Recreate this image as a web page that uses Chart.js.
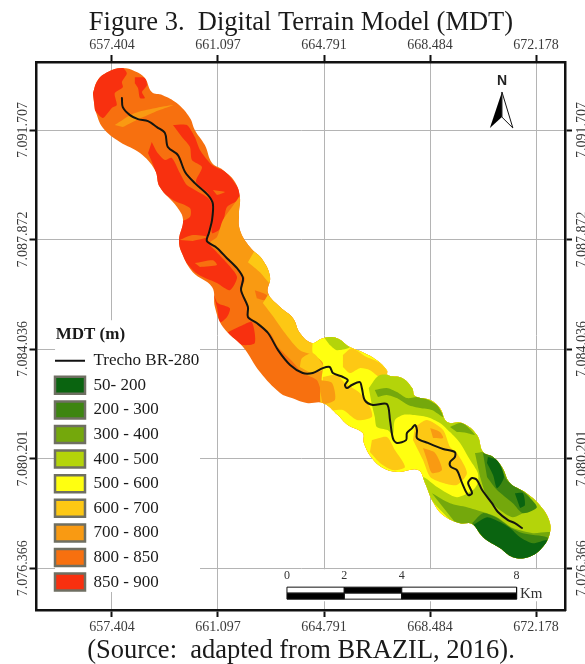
<!DOCTYPE html>
<html><head><meta charset="utf-8">
<style>html,body{margin:0;padding:0;background:#fff}canvas{display:block;filter:blur(0.45px)}</style>
<script src="https://cdn.jsdelivr.net/npm/chart.js@4"></script></head><body>
<canvas id="c" width="585" height="664"></canvas>
<script>
const titleText='Figure 3.  Digital Terrain Model (MDT)';
const captionText='(Source:  adapted from BRAZIL, 2016).';
const eastTicks=[657.404,661.097,664.791,668.484,672.178];
const eastLabels=['657.404','661.097','664.791','668.484','672.178'];
const northTicks=[7091.707,7087.872,7084.036,7080.201,7076.366];
const northLabels=['7.091.707','7.087.872','7.084.036','7.080.201','7.076.366'];
const legendClasses=['50- 200','200 - 300','300 - 400','400 - 500','500 - 600','600 - 700','700 - 800','800 - 850','850 - 900'];
const legendColors=['#0a6410','#3d8510','#74a80c','#b4d40a','#ffff10','#fdc814','#f99a12','#f7700f','#f8300f'];
const roadName='Trecho BR-280';
const scaleKm=[0,2,4,8];
const scaleOrigin=663.50;
const northArrowLeft=[[670.99,7093.04],[670.57,7091.78],[670.99,7092.16]];
const northArrowRight=[[670.99,7093.04],[671.37,7091.78],[670.99,7092.16],[670.99,7093.04]];

const outline=[[656.74,7093.00],[656.91,7093.46],[657.26,7093.74],[657.75,7093.88],[658.20,7093.77],[658.55,7093.53],[658.79,7093.04],[659.17,7092.93],[659.66,7092.65],[660.12,7092.13],[660.29,7091.71],[660.64,7091.18],[660.89,7090.55],[661.27,7090.31],[661.69,7089.89],[661.86,7089.36],[661.83,7088.80],[661.86,7088.21],[662.21,7087.61],[662.66,7087.15],[662.91,7086.56],[662.84,7086.00],[663.26,7085.51],[663.71,7085.12],[663.95,7084.60],[664.37,7084.25],[664.75,7084.42],[665.24,7084.42],[665.69,7084.11],[666.14,7083.93],[666.63,7083.65],[666.98,7083.30],[667.01,7083.13],[667.51,7083.02],[667.86,7082.67],[667.96,7082.39],[668.49,7082.25],[668.83,7081.97],[669.08,7081.48],[669.60,7081.45],[670.12,7081.03],[670.33,7080.43],[670.68,7080.26],[670.99,7079.91],[671.27,7079.35],[671.79,7079.03],[672.31,7078.57],[672.63,7078.05],[672.66,7077.59],[672.38,7077.07],[671.90,7076.75],[671.37,7076.75],[670.92,7077.07],[670.33,7077.45],[669.95,7077.91],[669.53,7077.94],[668.94,7078.22],[668.59,7078.68],[668.31,7079.35],[668.07,7079.80],[667.37,7079.73],[666.85,7079.87],[666.46,7080.22],[666.18,7080.75],[666.14,7081.10],[665.62,7081.38],[665.27,7081.73],[664.75,7082.15],[664.19,7082.15],[663.67,7082.32],[663.26,7082.50],[662.56,7083.23],[661.97,7084.11],[661.27,7084.81],[660.99,7085.51],[660.89,7086.21],[660.22,7086.73],[659.84,7087.40],[659.74,7087.86],[659.88,7088.56],[659.67,7089.01],[659.07,7089.71],[658.90,7090.31],[658.38,7090.90],[657.68,7091.29],[657.09,7091.78],[656.81,7092.41]];

const road=[[657.75,7092.83],[657.78,7092.51],[658.03,7092.23],[658.31,7092.09],[658.66,7092.02],[658.97,7091.81],[659.25,7091.60],[659.35,7091.11],[659.70,7090.83],[659.95,7090.24],[660.29,7089.85],[660.75,7089.43],[660.92,7089.12],[660.89,7088.56],[660.78,7088.10],[660.71,7087.82],[661.06,7087.58],[661.41,7087.22],[661.76,7086.87],[661.97,7086.52],[661.90,7086.10],[662.14,7085.51],[662.14,7085.16],[662.45,7084.95],[662.84,7084.60],[663.19,7084.00],[663.61,7083.48],[664.05,7083.20],[664.40,7083.20],[664.75,7083.37],[664.99,7083.41],[665.10,7083.20],[665.45,7083.06],[665.62,7082.95],[665.52,7082.78],[665.59,7082.67],[665.76,7082.78],[666.04,7082.88],[666.11,7082.67],[666.21,7082.25],[666.49,7082.08],[666.98,7082.11],[667.09,7081.55],[667.19,7080.92],[667.33,7080.75],[667.65,7080.85],[667.68,7081.10],[667.86,7081.27],[667.96,7081.38],[668.03,7081.20],[668.03,7080.92],[668.41,7080.75],[668.94,7080.54],[669.35,7080.43],[669.35,7080.26],[669.18,7080.08],[669.21,7079.91],[669.42,7079.80],[669.60,7079.35],[669.81,7078.93],[669.95,7078.99],[669.81,7079.35],[669.95,7079.52],[670.12,7079.45],[670.30,7079.10],[670.64,7078.64],[670.85,7078.33],[671.20,7078.05],[671.44,7077.94],[671.69,7077.77]];

const zone850=[
[[656.64,7093.00],[657.09,7093.70],[657.68,7093.95],[657.92,7093.70],[657.75,7093.39],[657.78,7093.21],[657.50,7093.00],[657.57,7092.58],[657.40,7092.48],[657.09,7092.13],[656.88,7092.30],[656.57,7092.76]],
[[658.20,7093.56],[658.55,7093.53],[658.62,7093.28],[658.45,7093.04],[658.55,7092.83],[658.38,7092.83],[658.31,7093.18],[658.20,7093.35]],
[[659.53,7091.88],[660.01,7091.88],[660.29,7091.46],[660.47,7091.01],[660.89,7090.48],[661.41,7090.20],[661.93,7089.36],[661.41,7089.01],[661.24,7088.31],[660.89,7088.10],[660.92,7089.08],[660.75,7089.50],[660.33,7089.89],[660.54,7090.41],[660.19,7090.66],[660.12,7091.11],[659.84,7091.46]],
[[658.79,7091.29],[658.97,7090.94],[659.25,7090.66],[659.49,7090.73],[659.77,7090.20],[660.01,7089.78],[660.29,7089.61],[660.75,7089.33],[660.92,7089.01],[660.75,7087.79],[660.99,7087.50],[661.41,7087.05],[661.76,7086.56],[661.51,7086.10],[661.06,7086.35],[660.33,7086.70],[659.70,7087.50],[659.53,7088.31],[660.12,7088.66],[660.12,7088.98],[659.53,7089.26],[659.00,7089.71],[658.90,7090.31],[658.66,7090.90]],
[[660.92,7086.03],[661.09,7085.65],[661.51,7085.47],[661.41,7085.16],[661.17,7084.98],[661.06,7085.51]],
[[661.44,7084.63],[661.97,7084.88],[662.28,7084.98],[662.38,7084.25],[661.97,7084.18],[661.62,7084.35]]
];
const zone800Streaks=[
[[659.77,7087.86],[660.22,7088.03],[660.75,7087.96],[660.22,7087.82]],
[[660.29,7087.05],[660.92,7087.15],[661.06,7086.98],[660.47,7086.91]],
[[660.92,7089.61],[661.34,7089.54],[661.06,7089.43]]
];
const zone700=[
[[661.97,7089.61],[661.76,7089.26],[661.27,7088.56],[661.06,7087.96],[660.82,7087.75],[661.41,7087.22],[661.86,7086.70],[662.04,7086.52],[661.93,7086.10],[662.14,7085.51],[662.21,7085.16],[662.91,7084.60],[663.19,7084.11],[663.71,7083.58],[664.05,7083.20],[664.54,7082.95],[664.71,7082.43],[664.75,7082.01],[666.04,7079.45],[674.40,7075.25],[674.40,7085.75],[663.95,7091.01]],
[[657.50,7091.88],[658.20,7092.30],[659.53,7092.58],[658.90,7092.34],[658.27,7092.06],[657.78,7091.81]]
];
const zone800Patch=[[[662.38,7086.10],[662.80,7085.93],[662.73,7085.75],[662.45,7085.82]]];
const zone600Strips=[
[[662.38,7087.50],[663.08,7086.80],[662.98,7086.28],[662.56,7086.73],[662.14,7087.08]],
[[662.84,7085.93],[663.78,7085.23],[664.72,7084.18],[664.65,7083.83],[663.95,7084.00],[663.43,7084.60],[662.98,7085.23],[662.66,7085.65]]
];
const zone500=[[[664.40,7084.35],[664.40,7083.90],[664.75,7083.55],[664.71,7083.02],[664.71,7082.01],[666.04,7079.80],[674.40,7075.25],[674.40,7085.75],[664.65,7085.75]]];
const zone600=[
[[663.95,7083.41],[664.02,7083.72],[664.40,7083.90],[664.75,7083.48],[664.75,7083.30],[664.33,7083.20]],
[[664.75,7083.06],[665.24,7083.13],[665.52,7082.85],[666.04,7082.50],[666.39,7082.01],[666.46,7081.66],[665.94,7081.55],[665.45,7081.90],[664.99,7081.90],[664.75,7082.25]],
[[665.45,7083.83],[665.76,7084.07],[666.28,7083.76],[666.74,7083.55],[667.01,7083.20],[666.74,7083.06],[666.39,7083.30],[666.04,7083.37],[665.69,7083.20],[665.45,7083.41]],
[[666.46,7080.85],[666.98,7080.96],[667.26,7080.50],[667.61,7079.91],[667.19,7079.80],[666.74,7080.05],[666.39,7080.43]],
[[667.96,7081.31],[668.38,7081.55],[668.94,7081.20],[669.18,7080.61],[669.42,7080.40],[669.77,7079.70],[669.42,7079.28],[668.94,7079.35],[668.49,7079.56],[668.24,7080.15],[667.89,7080.85]]
];
const zone700Patches=[
[[668.49,7081.27],[668.83,7081.13],[668.94,7080.92],[668.59,7080.92]],
[[668.24,7080.57],[668.66,7080.40],[668.90,7079.80],[668.55,7079.70],[668.38,7080.15]],
[[664.65,7082.95],[665.07,7082.85],[665.17,7082.25],[664.71,7082.08]]
];
const zone400=[
[[666.35,7082.67],[666.74,7083.13],[667.89,7082.95],[669.08,7081.66],[670.47,7081.10],[672.77,7078.50],[672.77,7076.65],[669.77,7077.59],[668.03,7079.35],[668.24,7079.56],[668.73,7079.21],[669.42,7078.85],[669.98,7079.10],[670.15,7079.35],[670.15,7079.70],[669.88,7080.15],[669.53,7080.75],[669.18,7081.13],[668.83,7081.45],[668.38,7081.66],[667.89,7081.73],[667.54,7081.73],[667.26,7081.55],[667.19,7081.03],[667.01,7081.20],[666.63,7081.31],[666.56,7081.66],[666.46,7082.08]],
[[664.75,7084.50],[665.52,7084.50],[665.69,7084.11],[665.24,7084.00],[664.99,7084.18]]
];
const zone300=[
[[666.56,7082.60],[666.98,7082.67],[667.33,7082.53],[667.68,7082.32],[668.14,7082.36],[668.73,7082.08],[668.94,7081.66],[668.55,7081.90],[668.14,7081.97],[667.72,7082.08],[667.33,7082.32],[666.98,7082.43],[666.67,7082.36]],
[[669.18,7081.31],[669.60,7081.45],[670.05,7081.03],[669.77,7081.10],[669.42,7081.13]],
[[670.05,7080.40],[670.68,7080.43],[671.27,7079.45],[671.96,7078.85],[671.86,7078.40],[671.37,7078.15],[670.92,7078.40],[670.47,7078.85],[670.23,7079.56]],
[[668.55,7078.99],[669.18,7078.64],[669.77,7078.50],[670.33,7078.33],[670.82,7078.15],[671.37,7077.77],[672.07,7077.59],[672.73,7077.59],[672.77,7076.54],[669.77,7077.45]]
];
const zone200=[
[[670.33,7080.40],[670.82,7080.22],[671.16,7079.45],[671.79,7078.99],[672.21,7078.50],[671.72,7078.29],[671.37,7078.64],[670.82,7079.10],[670.47,7079.56]],
[[669.95,7077.94],[670.33,7078.29],[670.82,7078.12],[671.27,7077.80],[671.72,7077.59],[672.56,7077.45],[672.73,7077.24],[672.07,7076.65],[671.27,7076.65],[670.47,7077.28]]
];
const zone50=[
[[670.50,7080.26],[670.82,7080.15],[671.06,7079.56],[670.82,7079.17],[670.68,7079.63],[670.47,7080.05]],
[[671.44,7078.99],[671.72,7078.99],[671.79,7078.57],[671.62,7078.47]],
[[669.98,7077.87],[670.47,7078.15],[670.92,7077.98],[671.27,7077.77],[671.62,7077.45],[672.07,7077.24],[672.56,7077.35],[672.38,7077.00],[671.72,7076.65],[671.16,7076.75],[670.47,7077.28]]
];
const legendMask=[[655.42,7085.05],[660.47,7085.05],[660.47,7075.53],[655.42,7075.53]];
const scaleMask=[[663.08,7076.33],[673.10,7076.33],[673.10,7075.21],[663.08,7075.21]];
const scaleBarNorth=[7075.70,7075.49,7075.28];
const scaleLabelNorth=7076.09, kmLabelEast=671.62, kmLabelNorth=7075.46;
const northLabelPos=[670.99,7093.42];

const C={c50:legendColors[0],c200:legendColors[1],c300:legendColors[2],c400:legendColors[3],c500:legendColors[4],c600:legendColors[5],c700:legendColors[6],c800:legendColors[7],c850:legendColors[8]};
const pts=a=>a.map(p=>({x:p[0],y:p[1]}));
const shape=(a,color,extra)=>Object.assign({type:'line',data:pts(a),fill:'shape',backgroundColor:color,borderWidth:0,pointRadius:0,tension:0},extra||{});
const zoneSets=(polys,color)=>polys.map(p=>shape(p,color,{tension:0.25,mapClip:true}));
const rect=(x0,x1,y0,y1)=>[[x0,y0],[x1,y0],[x1,y1],[x0,y1],[x0,y0]];
const barPiece=(i,row)=>{
  const white=(i+row)%2===0;
  return shape(rect(scaleOrigin+scaleKm[i],scaleOrigin+scaleKm[i+1],scaleBarNorth[row],scaleBarNorth[row+1]),white?'#ffffff':'#000000',{borderWidth:1,borderColor:'#111'});
};
// painter's order: Chart.js draws the last dataset first, so the list is reversed below
const paintOrder=[
  shape(legendMask,'#ffffff'),
  shape(scaleMask,'#ffffff'),
  shape(outline,C.c800,{tension:0.4,isOutline:true}),
  ...zoneSets(zone850,C.c850),
  ...zoneSets(zone800Streaks,C.c800),
  ...zoneSets(zone700,C.c700),
  ...zoneSets(zone800Patch,C.c800),
  ...zoneSets(zone600Strips,C.c600),
  ...zoneSets(zone500,C.c500),
  ...zoneSets(zone600,C.c600),
  ...zoneSets(zone700Patches,C.c700),
  ...zoneSets(zone400,C.c400),
  ...zoneSets(zone300,C.c300),
  ...zoneSets(zone200,C.c200),
  ...zoneSets(zone50,C.c50),
  {type:'line',data:pts(road),borderColor:'#151510',backgroundColor:'#151510',borderWidth:2,pointRadius:0,tension:0.3,fill:false,borderJoinStyle:'round',borderCapStyle:'round'},
  shape(northArrowLeft,'#000000'),
  shape(northArrowRight,'#ffffff',{borderWidth:1,borderColor:'#111'}),
  barPiece(0,0),barPiece(1,0),barPiece(2,0),barPiece(0,1),barPiece(1,1),barPiece(2,1)
];
const datasets=paintOrder.slice().reverse();
const outlineIndex=datasets.findIndex(d=>d.isOutline);

const mapPlugin={
  id:'mapPlugin',
  beforeLayout(chart){
    const lg=chart.legend;
    if(lg&&!lg._wrapped){
      const f=lg.fit;
      lg.fit=function(){f.call(this);this.width=0;};
      lg._layers=()=>[{z:1,draw(a){lg.draw(a);}}];
      const dt=lg.drawTitle;
      lg.drawTitle=function(){const r=this.right,w=this.width;this.right=133.6;this.width=86;dt.call(this);this.right=r;this.width=w;};
      lg._wrapped=true;
    }
  },
  afterLayout(chart){
    const lg=chart.legend;
    lg.left=47.4;lg.right=47.4+170;lg.top=325.8;lg.bottom=325.8+280;lg.width=170;lg.height=280;
    chart.boxes.forEach(b=>{ if(b.options&&b.options.text&&b!==lg&&b.isHorizontal&&b.isHorizontal()){b.left=17;b.right=585;} });
  },
  beforeDatasetDraw(chart,args){
    const ds=chart.data.datasets[args.index];
    if(ds.mapClip){
      const ctx=chart.ctx;
      ctx.save();
      ctx.beginPath();
      const el=chart.getDatasetMeta(outlineIndex).dataset;
      el.updateControlPoints(chart.chartArea,'x');
      el.path(ctx);
      ctx.closePath();
      ctx.clip();
    }
  },
  afterDatasetDraw(chart,args){
    if(chart.data.datasets[args.index].mapClip) chart.ctx.restore();
  },
  afterDatasetsDraw(chart){
    const {ctx,scales:{x,y}}=chart;
    ctx.save();
    ctx.textAlign='center';ctx.textBaseline='middle';ctx.fillStyle='#333';
    ctx.font='12px "Liberation Serif"';
    scaleKm.forEach(k=>ctx.fillText(String(k),x.getPixelForValue(scaleOrigin+k),y.getPixelForValue(scaleLabelNorth)));
    ctx.font='15px "Liberation Serif"';ctx.textAlign='left';
    ctx.fillText('Km',x.getPixelForValue(kmLabelEast),y.getPixelForValue(kmLabelNorth));
    ctx.textAlign='center';ctx.fillStyle='#222';
    ctx.font='bold 14px "Liberation Sans"';
    ctx.fillText('N',x.getPixelForValue(northLabelPos[0]),y.getPixelForValue(northLabelPos[1]));
    ctx.restore();
  }
};
// the clip above must be set before the Filler plugin paints, so it goes ahead of it in the registry
const fillerPlugin=Chart.registry.getPlugin('filler');
Chart.unregister(fillerPlugin);
Chart.register(mapPlugin);
Chart.register(fillerPlugin);

const tickFont={family:'Liberation Serif',size:14};
const xRange={min:654.774,max:673.187}, yRange={min:7074.90,max:7094.09};
const frame={display:true,color:'#111',width:2.5};
const setTicks=(vals)=>(axis)=>{axis.ticks=vals.map(v=>({value:v}));};
const xAxis=(position,grid,h,pad)=>Object.assign({type:'linear',position,border:frame,
  grid:{display:true,drawOnChartArea:grid,color:'#b4b4b4',lineWidth:1,tickColor:'#111',tickWidth:2,tickLength:7},
  ticks:{autoSkip:false,maxRotation:0,minRotation:0,font:tickFont,color:'#3a3a3a',padding:pad,callback:(v,i)=>eastLabels[i]},
  afterBuildTicks:setTicks(eastTicks),afterFit:s=>{s.height=h;}},xRange);
const yAxis=(position,grid,w,pad)=>Object.assign({type:'linear',position,border:frame,
  grid:{display:true,drawOnChartArea:grid,color:'#b4b4b4',lineWidth:1,tickColor:'#111',tickWidth:2,tickLength:7},
  ticks:{autoSkip:false,maxRotation:90,minRotation:90,crossAlign:'center',font:tickFont,color:'#3a3a3a',padding:pad,callback:(v,i)=>northLabels[i]},
  afterBuildTicks:setTicks(northTicks),afterFit:s=>{s.width=w;}},yRange);

new Chart(document.getElementById('c'),{
  type:'line',
  data:{datasets},
  options:{
    responsive:false,animation:false,
    layout:{padding:0},
    scales:{
      x:xAxis('bottom',true,27.5,2),
      x2:xAxis('top',false,25.75,1),
      y:yAxis('left',true,36.5,-21.5),
      y2:yAxis('right',false,20,-18)
    },
    plugins:{
      tooltip:{enabled:false},
      title:{display:true,text:titleText,position:'top',color:'#1a1a1a',font:{family:'Liberation Serif',size:26.5,weight:'normal',lineHeight:1},padding:{top:9.75,bottom:0}},
      subtitle:{display:true,text:captionText,position:'bottom',color:'#1a1a1a',font:{family:'Liberation Serif',size:26.5,weight:'normal',lineHeight:1},padding:{top:0,bottom:0}},
      legend:{
        display:true,position:'left',align:'start',
        title:{display:true,text:'MDT (m)',position:'center',color:'#1a1a1a',font:{family:'Liberation Serif',size:17,weight:'bold'},padding:{top:0,bottom:-1.6}},
        labels:{
          usePointStyle:true,pointStyleWidth:30,boxHeight:17,padding:7.6,color:'#333',
          font:{family:'Liberation Serif',size:17},
          generateLabels(){
            const items=[{text:roadName,pointStyle:'line',strokeStyle:'#111',fillStyle:'#111',lineWidth:2}];
            legendClasses.forEach((t,i)=>items.push({text:t,pointStyle:'rect',fillStyle:legendColors[i],strokeStyle:'#6f6f62',lineWidth:2.5}));
            return items;
          }
        }
      }
    }
  }
});
</script></body></html>
